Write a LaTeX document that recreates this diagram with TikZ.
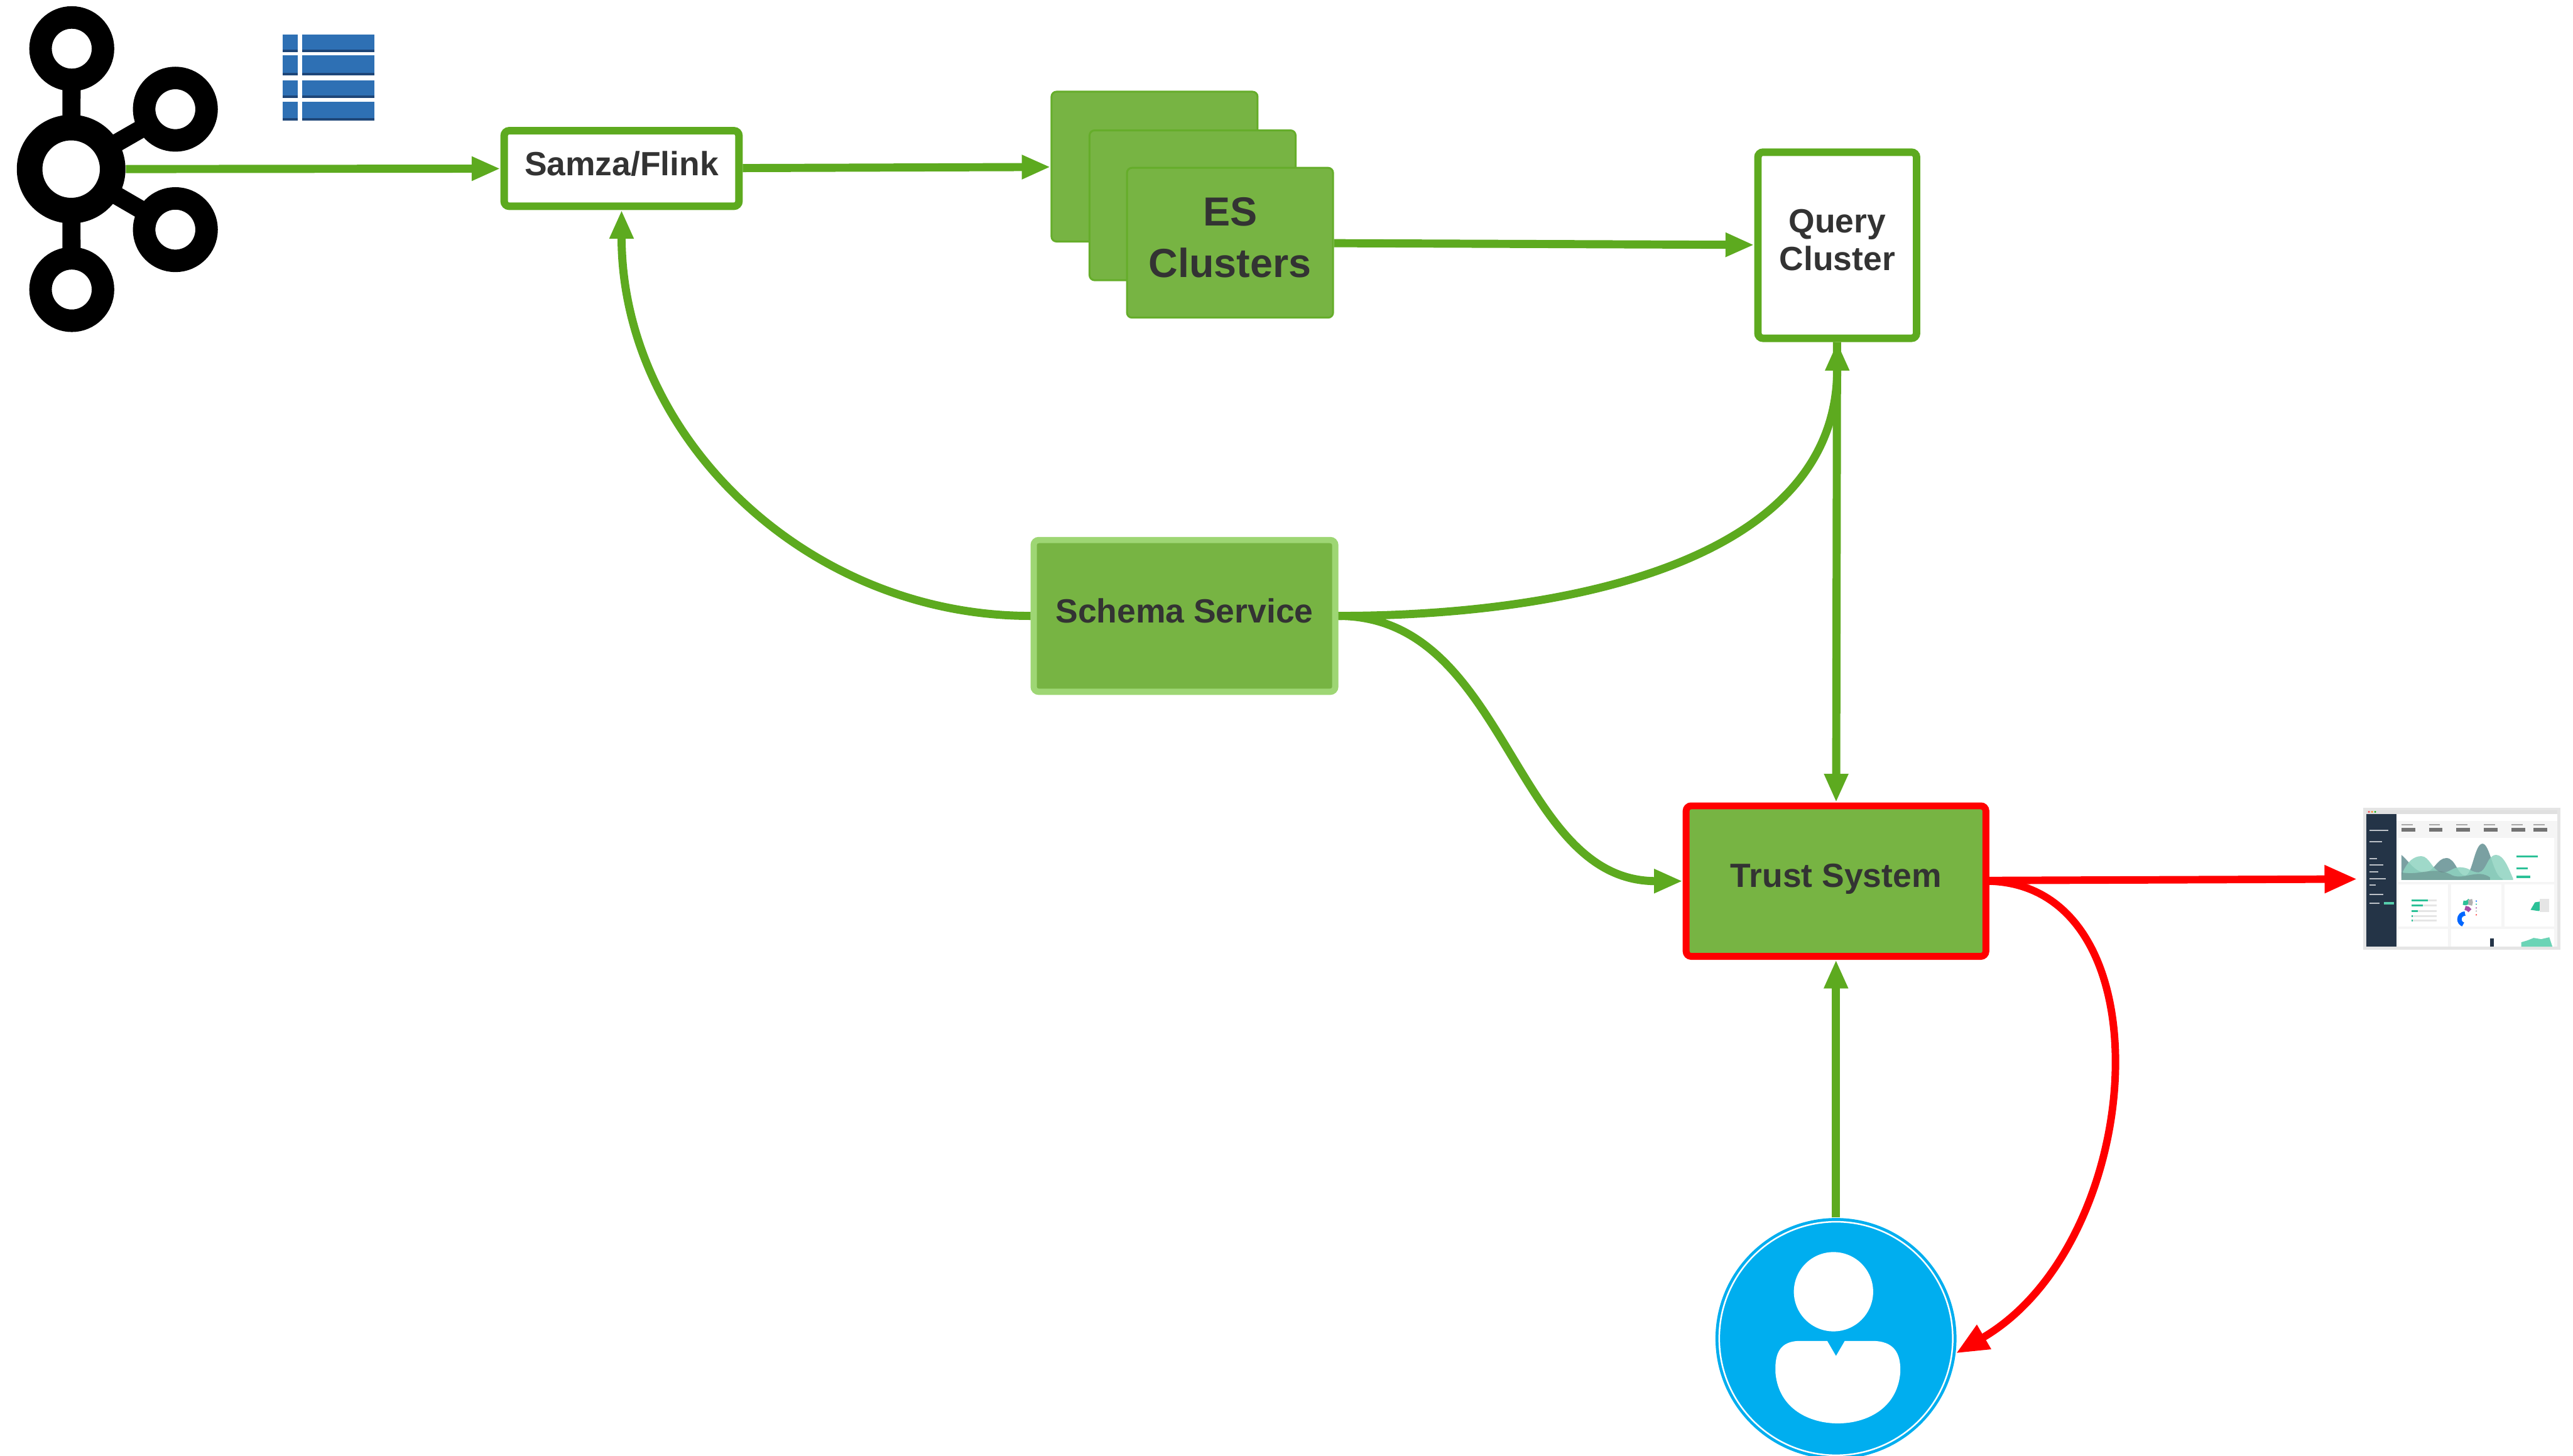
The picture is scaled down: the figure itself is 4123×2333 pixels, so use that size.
\documentclass[tikz,border=0pt]{standalone}
\usepackage{fontspec}
\setmainfont{Liberation Sans}
\usetikzlibrary{arrows.meta,positioning}
\definecolor{flowgreen}{RGB}{93,170,31}
\definecolor{boxgreen}{RGB}{119,180,67}
\definecolor{lightgreen}{RGB}{158,214,116}
\definecolor{alertred}{RGB}{255,0,0}
\definecolor{textgrey}{RGB}{51,51,51}
\definecolor{tableblue}{RGB}{46,112,180}
\definecolor{tabledark}{RGB}{30,70,120}
\definecolor{usercyan}{RGB}{0,174,239}
\definecolor{dashnavy}{RGB}{36,52,71}
\definecolor{dashmint}{RGB}{143,211,192}
\definecolor{dashslate}{RGB}{122,160,162}
\definecolor{dashteal}{RGB}{44,193,151}
\tikzset{
  flow/.style={draw=flowgreen, line width=0.13cm, -{Triangle[length=0.46cm,width=0.36cm]}},
  alert/.style={draw=alertred, line width=0.12cm, -{Triangle[length=0.52cm,width=0.42cm]}},
  boxtext/.style={font=\fontsize{15.3}{17}\selectfont\bfseries, text=textgrey, align=center, inner sep=0, text depth=0.17cm},
  whitebox/.style={boxtext, draw=flowgreen, fill=white, line width=0.12cm, rounded corners=0.08cm},
  greenbox/.style={boxtext, fill=boxgreen, rounded corners=0.08cm},
  esbox/.style={greenbox, draw=flowgreen!70!boxgreen, line width=0.03cm, minimum width=3.30cm, minimum height=2.40cm}
}
\begin{document}
\begin{tikzpicture}[x=0.01cm, y=-0.01cm]
  \useasboundingbox (0,0) rectangle (4123,2333);

  % kafka logo
  \node [circle, minimum size=1.74cm, inner sep=0] (kafka) at (114,271) {};
  \draw [line width=0.29cm] (114,271) -- (115,78);
  \draw [line width=0.29cm] (114,271) -- (115,464);
  \draw [line width=0.29cm] (114,271) -- (281,175);
  \draw [line width=0.29cm] (114,271) -- (281,368);
  \draw [line width=0.41cm, fill=white] (114,271) circle [radius=0.665cm];
  \foreach \cx/\cy in {115/78, 115/464, 281/175, 281/368}
    \draw [line width=0.36cm, fill=white] (\cx,\cy) circle [radius=0.50cm];

  % table icon
  \foreach \top/\bot in {55/84, 89/121, 129/157, 163/193} {
    \fill [tableblue] (453,\top) rectangle (477,\bot);
    \fill [tableblue] (484,\top) rectangle (600,\bot);
    \fill [tabledark] (453,\bot-4) rectangle (477,\bot);
    \fill [tabledark] (484,\bot-4) rectangle (600,\bot);
  }

  \node [whitebox, minimum width=3.76cm, minimum height=1.21cm] (samza) at (996,270) {Samza/Flink};
  \node [esbox] (esback) at (1850,267) {};
  \node [esbox] (esmid) at (1911,329) {};
  \node [esbox, font=\fontsize{18.5}{23.3}\selectfont\bfseries] (esfront) at (1971,389) {ES\\Clusters};
  \node [whitebox, minimum width=2.54cm, minimum height=2.98cm] (query) at (2944,393) {Query\\Cluster};
  \node [greenbox, draw=lightgreen, line width=0.10cm, minimum width=4.83cm, minimum height=2.43cm] (schema) at (1898,987) {Schema Service};
  \node [greenbox, draw=alertred, line width=0.11cm, minimum width=4.80cm, minimum height=2.41cm] (trust) at (2942,1412) {Trust System};
  \node [circle, fill=usercyan, minimum size=3.86cm, inner sep=0] (user) at (2942,2145) {};
  \node [minimum width=3.06cm, minimum height=2.19cm, inner sep=0, outer sep=0.15cm] (dash) at (3945,1408) {};

  % user icon
  \draw [white, line width=0.025cm] (user.center) circle [radius=1.87cm];
  \fill [white] (2938,2070) circle [radius=0.635cm];
  \fill [white] (2942,2173) -- (2928,2149) -- (2880,2149)
    .. controls (2848,2151) and (2844,2175) .. (2845,2200)
    .. controls (2850,2258) and (2900,2281) .. (2945,2281)
    .. controls (2990,2281) and (3040,2258) .. (3045,2200)
    .. controls (3046,2175) and (3040,2151) .. (3005,2149) -- (2956,2149) -- cycle;

  % dashboard screenshot
  \fill [black!10] (3787,1294) rectangle (4103,1522);
  \fill [black!4] (3792,1298) rectangle (4098,1517);
  \fill [black!12] (3792,1298) rectangle (4098,1305);
  \fill [red!80] (3796,1301) circle [radius=0.015cm];
  \fill [orange] (3801,1301) circle [radius=0.015cm];
  \fill [green!70!black] (3806,1301) circle [radius=0.015cm];
  \fill [dashnavy] (3792,1305) rectangle (3840,1517);
  \foreach \ly/\lw in {1330/30, 1348/20, 1375/12, 1385/22, 1396/14, 1407/26, 1417/10, 1432/22, 1446/16} {
    \fill [white!70!dashnavy] (3797,\ly) rectangle (3797+\lw,\ly+2);
  }
  \fill [dashteal!80] (3820,1445) rectangle (3836,1449);
  \fill [white] (3840,1305) rectangle (4098,1316);
  \foreach \kx in {3848, 3892, 3936, 3980, 4024, 4060} {
    \fill [black!35] (\kx,1321) rectangle (\kx+18,1323);
    \fill [black!55] (\kx,1327) rectangle (\kx+22,1333);
  }
  \fill [white] (3843,1343) rectangle (4093,1413);
  \fill [dashslate] (3848,1410) -- (3848,1370)
    .. controls (3860,1380) and (3870,1398) .. (3885,1398)
    .. controls (3900,1398) and (3905,1375) .. (3920,1375)
    .. controls (3935,1375) and (3938,1403) .. (3950,1403)
    .. controls (3962,1403) and (3965,1352) .. (3978,1352)
    .. controls (3990,1352) and (3995,1405) .. (4010,1408) -- (4010,1410) -- cycle;
  \fill [dashmint, opacity=0.85] (3848,1410) -- (3850,1398)
    .. controls (3858,1380) and (3868,1372) .. (3880,1372)
    .. controls (3893,1372) and (3898,1396) .. (3912,1398)
    .. controls (3925,1400) and (3930,1388) .. (3945,1390)
    .. controls (3958,1391) and (3960,1398) .. (3972,1398)
    .. controls (3985,1396) and (3985,1370) .. (4000,1370)
    .. controls (4012,1370) and (4020,1392) .. (4027,1408) -- (4027,1410) -- cycle;
  \fill [dashslate!80!black, opacity=0.5] (3848,1410) -- (3848,1398)
    .. controls (3880,1404) and (3900,1386) .. (3930,1403)
    .. controls (3950,1410) and (3970,1392) .. (3990,1406) -- (3990,1410) -- cycle;
  \fill [dashteal] (4032,1371) rectangle (4067,1374);
  \fill [dashteal] (4032,1390) rectangle (4050,1393);
  \fill [dashteal] (4032,1403) rectangle (4055,1407);
  \foreach \cx in {3843, 3928, 4013}
    \fill [white] (\cx,1417) rectangle (\cx+80,1485);
  \foreach \by/\bl in {1441/26, 1449/18, 1459/10, 1467/2, 1474/2} {
    \fill [dashteal] (3864,\by) rectangle (3864+\bl,\by+3);
    \fill [black!10] (3864+\bl,\by) rectangle (3905,\by+3);
  }
  \draw [line width=0.07cm, blue!60!cyan] (3950,1455) ++(90:9) arc [start angle=90, end angle=250, radius=0.09cm];
  \draw [line width=0.07cm, dashteal] (3950,1455) ++(250:9) arc [start angle=250, end angle=330, radius=0.09cm];
  \draw [line width=0.07cm, black!30] (3950,1455) ++(330:9) arc [start angle=330, end angle=390, radius=0.09cm];
  \draw [line width=0.07cm, violet!70] (3950,1455) ++(30:9) arc [start angle=30, end angle=90, radius=0.09cm];
  \foreach \ly/\lc in {1444/blue!60!cyan, 1449/dashteal, 1455/violet!70, 1460/black!30, 1466/red!80}
    \fill [\lc] (3968,\ly) circle [radius=0.012cm];
  \fill [dashteal] (4055,1458) -- (4062,1446) -- (4075,1444) -- (4075,1455) -- (4068,1460) -- cycle;
  \fill [black!10] (4070,1440) rectangle (4085,1462);
  \fill [white] (3843,1489) rectangle (3923,1517);
  \fill [white] (3928,1489) rectangle (4093,1517);
  \fill [dashteal!70] (4040,1517) -- (4040,1510) -- (4050,1507) -- (4060,1503) -- (4072,1505) -- (4085,1502) -- (4090,1517) -- cycle;
  \fill [dashnavy] (3990,1504) rectangle (3996,1517);

  % connections
  \draw [flow] (kafka) -- (samza);
  \draw [flow] (samza) -- (esback);
  \draw [flow] (esfront) -- (query);
  \draw [flow] (schema.west) to [out=180, in=-90] (samza.south);
  \draw [flow] (schema.east) to [out=0, in=-90] (query.south);
  \draw [flow] (schema.east) to [out=0, in=180] (trust.west);
  \draw [flow] (query) -- (trust);
  \draw [flow] (user) -- (trust);
  \draw [alert] (trust) -- (dash);
  \draw [alert] (trust.east) .. controls +(290,8) and +(305,-178) .. (user.-7);
\end{tikzpicture}
\end{document}
